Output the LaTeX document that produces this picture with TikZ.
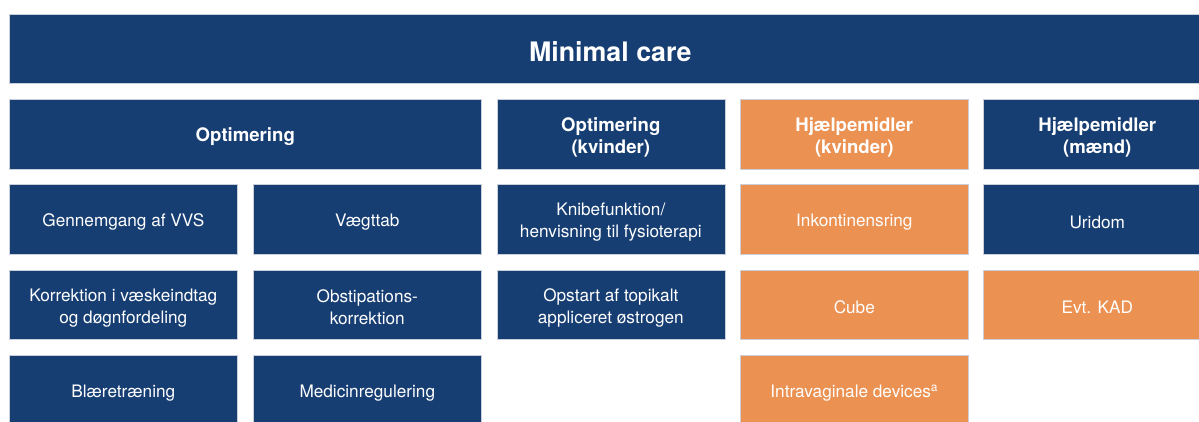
\documentclass[tikz,border=0pt]{standalone}
\usepackage{fontspec}
\setmainfont{TeX Gyre Heros}
\definecolor{navy}{HTML}{173E73}
\definecolor{apricot}{HTML}{EB9152}
\definecolor{rim}{HTML}{C9CED8}
% #1 box style, #2 name, #3 x, #4 y, #5 font, #6 text
\newcommand\tilebox[6]{%
  \node[#1] (#2) at (#3,#4) {};
  \node[tiletext, font=#5] (#2-text) at ([yshift=-3pt]#2.center) {#6};}
\begin{document}
\begin{tikzpicture}[x=1pt,y=-1pt,
  cell/.style={draw=rim, line width=0.6pt, fill=navy,
    minimum width=228pt, minimum height=69.5pt, inner sep=0pt,
    anchor=north west},
  aid/.style={cell, fill=apricot},
  wide/.style={cell, minimum width=472pt},
  banner/.style={cell, minimum width=1202pt},
  tiletext/.style={text=white, align=center, inner sep=0pt}]
\useasboundingbox (0,0) rectangle (1199,421);
\clip (0,0) rectangle (1199,421);

\def\body{\fontsize{17.2}{22}\selectfont}
\def\hd{\fontsize{18.6}{22}\selectfont\bfseries}

% top banner
\tilebox{banner}{minimal}{9}{13.7}{\fontsize{26.8}{30}\selectfont\bfseries}{Minimal care}

% column headers
\tilebox{wide}{opt}{9}{99}{\hd}{Optimering}
\tilebox{cell}{optk}{496.5}{99}{\hd}{Optimering\\(kvinder)}
\tilebox{aid}{hjk}{740}{99}{\hd}{Hjælpemidler\\(kvinder)}
\tilebox{cell}{hjm}{983}{99}{\hd}{Hjælpemidler\\(mænd)}

% second row
\tilebox{cell}{vvs}{9}{184.3}{\body}{Gennemgang af VVS}
\tilebox{cell}{vaegt}{253}{184.3}{\body}{Vægttab}
\tilebox{cell}{knibe}{496.5}{184.3}{\body}{Knibefunktion/\\henvisning til fysioterapi}
\tilebox{aid}{ring}{740}{184.3}{\body}{Inkontinensring}
\tilebox{cell}{uridom}{983}{184.3}{\body}{Uridom}

% third row
\tilebox{cell}{vaeske}{9}{269.6}{\body}{Korrektion i væskeindtag\\og døgnfordeling}
\tilebox{cell}{obstip}{253}{269.6}{\body}{Obstipations-\\korrektion}
\tilebox{cell}{oestro}{496.5}{269.6}{\body}{Opstart af topikalt\\appliceret østrogen}
\tilebox{aid}{cube}{740}{269.6}{\body}{Cube}
\tilebox{aid}{kad}{983}{269.6}{\body}{Evt. KAD}

% fourth row
\tilebox{cell}{blaere}{9}{354.9}{\body}{Blæretræning}
\tilebox{cell}{medicin}{253}{354.9}{\body}{Medicinregulering}
\tilebox{aid}{intra}{740}{354.9}{\body}{Intravaginale devices\textsuperscript{a}}
\end{tikzpicture}
\end{document}
